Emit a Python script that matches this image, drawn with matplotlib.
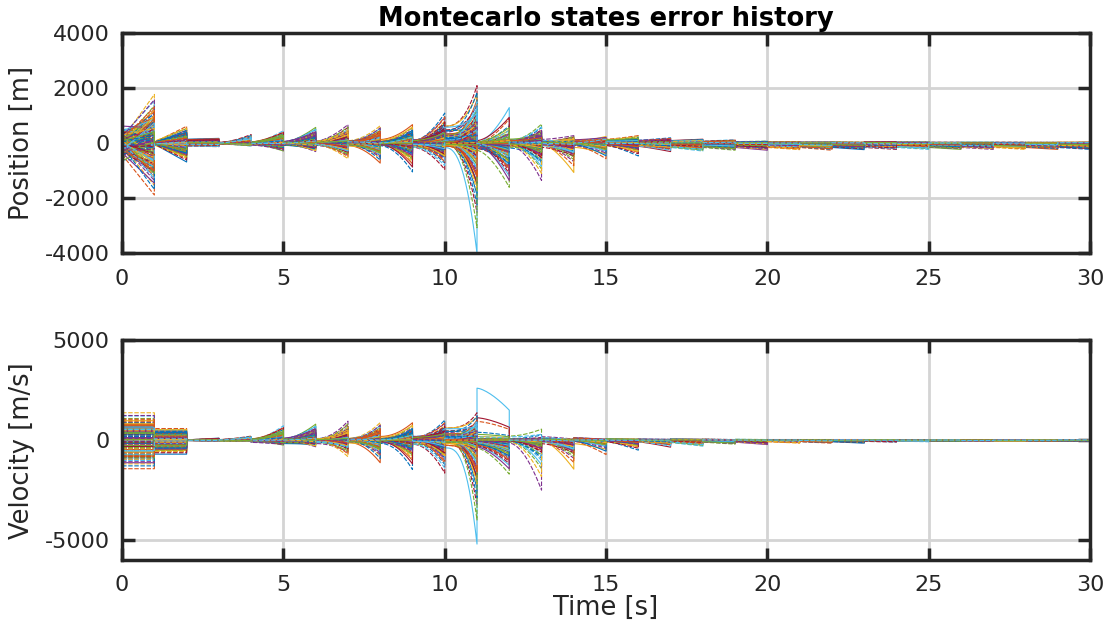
import numpy as np
import matplotlib
matplotlib.use("Agg")
import matplotlib.pyplot as plt

plt.rcParams['axes.unicode_minus'] = False

# ---------------- data ----------------
segment_starts = list(range(30))          # propagation arcs [k, k+1] s

# Monte Carlo member coefficients (relative position inside the error envelope)
member_coef_a = [0.12, -0.35, 0.58, -0.07, 0.21, -0.62, 0.03, 0.44, -0.18, 0.31,
                 -0.49, 0.09, -0.26, 0.72, -0.11, 0.16, -0.83, 0.38, -0.02, 0.25,
                 -0.39, 0.51, -0.14, 0.06, 0.29, -0.57, 0.19, -0.31, 0.65, -0.05,
                 0.11, -0.22, 0.41, -0.68, 0.14, 0.02, -0.45, 0.34, -0.09, 0.55,
                 -0.28, 0.08, 0.13, -0.16, 0.23, -0.74, 0.47, -0.04, 0.18, -0.36,
                 0.27, -0.12, 0.61, -0.52, 0.05, -0.21, 0.36, -1.00, 1.00, -0.41,
                 0.79, -0.08, 0.33, -0.24, 0.01, 0.49, -0.66, 0.17, -0.33, 0.26,
                 -0.03, 0.42, -0.47, 0.10, -0.19, 0.88, -0.58, 0.22, -0.13, 0.07]
member_coef_b = [-0.21, 0.44, -0.06, 0.33, -0.52, 0.15, 0.71, -0.29, 0.04, -0.40,
                 0.26, -0.13, 0.57, -0.67, 0.09, 0.37, -0.02, -0.24, 0.48, -0.35,
                 0.18, -0.79, 0.12, 0.30, -0.10, 0.63, -0.46, 0.01, 0.22, -0.17,
                 0.52, -0.60, 0.07, -0.33, 0.40, 0.90, -0.08, 0.16, -0.43, 0.28,
                 -0.55, 0.05, 0.35, -0.19, -0.71, 0.46, 0.11, -0.27, 0.60, -0.04,
                 0.24, -0.38, 0.14, -0.90, 0.53, -0.15, 0.32, 0.03, -0.49, 0.20,
                 -0.11, 0.67, -0.30, 0.09, -0.62, 0.39, -0.23, 0.13, 0.76, -0.42,
                 0.06, -0.26, 0.45, -0.07, 0.19, -0.56, 0.34, -0.14, 0.27, -0.36]

# Position error envelopes [m] at start / end of each arc
pos_start_hi = [900, 80, 150, 60, 80, 100, 150, 150, 150, 200, 900, 300, 300, 250, 200,
                200, 150, 100, 80, 60, 50, 50, 50, 50, 50, 40, 40, 40, 40, 40]
pos_start_lo = [-900, -80, -100, -40, -80, -100, -100, -150, -150, -200, -400, -400, -300, -250, -200,
                -150, -150, -150, -150, -150, -150, -150, -150, -150, -150, -150, -150, -150, -150, -150]
pos_end_hi = [1780, 620, 180, 320, 460, 580, 680, 640, 680, 1100, 2100, 1300, 700, 280, 250,
              280, 200, 150, 130, 80, 60, 60, 40, 60, 60, 40, 40, 40, 40, 40]
pos_end_lo = [-1880, -680, -120, -100, -280, -300, -560, -720, -1040, -950, -4000, -1600, -1350, -1060, -560,
              -460, -300, -280, -250, -250, -230, -250, -230, -220, -220, -220, -220, -220, -220, -220]
pos_shape = [1, 1, 1, 1.5, 1.5, 1.5, 1.6, 1.8, 1.8, 1.8, 2.5, 1.6, 1.8, 1.5, 1.5,
             1.3, 1.2, 1, 1, 1, 1, 1, 1, 1, 1, 1, 1, 1, 1, 1]
pos_rho = [0.3, 0.5, 1, 0.5, 0.5, 0.5, 0.5, 0.5, 0.5, 0.5, 0.6, 0.5, 0.5, 0.5, 0.6,
           0.7, 0.8, 1, 1, 1, 1, 1, 1, 1, 1, 1, 1, 1, 1, 1]
pos_tail_hi = [1.1, 1.1, 1.0, 1.2, 1.2, 1.2, 1.3, 1.3, 1.3, 1.3, 1.2, 3.0, 1.5, 1.5, 1.5,
               1.3, 1.3, 1.2, 1.2, 1.2, 1.2, 1.2, 1.2, 1.2, 1.2, 1.2, 1.2, 1.2, 1.2, 1.2]
pos_tail_lo = [1.1, 1.1, 1.0, 1.2, 1.2, 1.2, 1.5, 1.6, 1.8, 1.5, 2.5, 1.6, 2.0, 2.5, 2.0,
               1.8, 1.6, 1.3, 1.3, 1.3, 1.3, 1.3, 1.3, 1.3, 1.3, 1.3, 1.3, 1.3, 1.3, 1.3]

# Velocity error envelopes [m/s]
vel_start_hi = [1370, 580, 30, 50, 100, 150, 150, 150, 200, 300, 900, 2600, 950, 300, 200,
                100, 80, 60, 50, 40, 30, 30, 30, 20, 20, 20, 20, 20, 20, 20]
vel_start_lo = [-1430, -700, -30, -50, -150, -250, -250, -250, -300, -300, -1000, -400, -300, -300, -250,
                -200, -150, -120, -100, -100, -80, -80, -80, -60, -50, -40, -40, -40, -40, -40]
vel_end_hi = [1370, 580, 100, 200, 720, 800, 950, 880, 870, 1000, 1370, 1500, 550, 50, 50,
              50, 40, 40, 30, 30, 30, 30, 30, 20, 20, 20, 20, 20, 20, 20]
vel_end_lo = [-1430, -700, -60, -60, -250, -330, -830, -1130, -1470, -1650, -5200, -1700, -2500, -1450, -720,
              -500, -350, -300, -200, -220, -150, -150, -150, -100, -80, -60, -50, -50, -50, -50]
vel_shape = [1, 1, 1, 1.3, 1.6, 1.6, 2, 2, 2, 2, 3, 1.5, 1.8, 1.5, 1.3,
             1.2, 1.2, 1, 1, 1, 1, 1, 1, 1, 1, 1, 1, 1, 1, 1]
vel_rho = [1, 1, 0.5, 0.5, 0.5, 0.5, 0.5, 0.5, 0.5, 0.5, 0.6, 1, 0.8, 0.5, 0.5,
           0.6, 0.7, 1, 1, 1, 1, 1, 1, 1, 1, 1, 1, 1, 1, 1]
vel_tail_hi = [1.0, 1.0, 1.2, 1.2, 1.3, 1.3, 1.5, 1.5, 1.5, 1.4, 1.3, 8.0, 6.0, 1.5, 1.5,
               1.3, 1.3, 1.2, 1.2, 1.2, 1.2, 1.2, 1.2, 1.2, 1.2, 1.2, 1.2, 1.2, 1.2, 1.2]
vel_tail_lo = [1.0, 1.0, 1.2, 1.2, 1.3, 1.3, 1.8, 2.0, 2.0, 1.6, 2.5, 1.6, 3.0, 2.5, 2.5,
               2.0, 1.8, 1.5, 1.5, 1.5, 1.5, 1.5, 1.5, 1.5, 1.5, 1.5, 1.5, 1.5, 1.5, 1.5]

x_ticks = [0, 5, 10, 15, 20, 25, 30]
pos_ticks = [-4000, -2000, 0, 2000, 4000]
vel_ticks = [-5000, 0, 5000]

title = "Montecarlo states error history"
COLORS = ['#0072BD', '#D95319', '#EDB120', '#7E2F8E', '#77AC30', '#4DBEEE', '#A2142F']

members = member_coef_a + member_coef_b


def amp(c, hi, lo, qh, ql):
    if c >= 0:
        return (c ** qh) * hi
    return ((-c) ** ql) * lo


def build(i, s_hi, s_lo, e_hi, e_lo, shape, rho, t_hi, t_lo):
    n = len(members)
    tau = np.linspace(0, 1, 18)
    ts, vs = [], []
    for k, t0 in enumerate(segment_starts):
        j = (i + k) % n
        j2 = (3 * i + 7 * k + 29) % n
        ce = members[j]
        cs = rho[k] * members[j] + (1 - rho[k]) * members[j2]
        s = amp(cs, s_hi[k], s_lo[k], t_hi[k], t_lo[k])
        e = amp(ce, e_hi[k], e_lo[k], t_hi[k], t_lo[k])
        ts.append(t0 + tau)
        vs.append(s + (e - s) * tau ** shape[k])
    return np.concatenate(ts), np.concatenate(vs)


fig = plt.figure(figsize=(11.1, 6.3), dpi=100)
ax1 = fig.add_axes([0.110, 0.598, 0.872, 0.349])
ax2 = fig.add_axes([0.110, 0.111, 0.872, 0.349])

for i in range(len(members)):
    col = COLORS[i % 7]
    style = dict(color=col, lw=0.8)
    if i % 3 != 2:
        style.update(ls='--', dashes=(4, 1.5))
    t, p = build(i, pos_start_hi, pos_start_lo, pos_end_hi, pos_end_lo, pos_shape, pos_rho,
                 pos_tail_hi, pos_tail_lo)
    ax1.plot(t, p, **style)
    t, v = build(i, vel_start_hi, vel_start_lo, vel_end_hi, vel_end_lo, vel_shape, vel_rho,
                 vel_tail_hi, vel_tail_lo)
    ax2.plot(t, v, **style)

for ax, yt, ylim, lab in [(ax1, pos_ticks, (-4000, 4000), 'Position [m]'),
                          (ax2, vel_ticks, (-6000, 5000), 'Velocity [m/s]')]:
    ax.set_xlim(0, 30)
    ax.set_ylim(*ylim)
    ax.set_xticks(x_ticks)
    ax.set_yticks(yt)
    ax.grid(True, color='#d4d4d4', lw=2)
    ax.set_axisbelow(True)
    for sp in ax.spines.values():
        sp.set_linewidth(2.5)
        sp.set_color('#262626')
    ax.tick_params(direction='in', length=9, width=2.5, top=True, right=True,
                   labelsize=16, colors='#262626', pad=9)
    ax.tick_params(axis='x', pad=11)
    ax.set_ylabel(lab, fontsize=18.5, color='#262626', labelpad=7)

ax1.set_title(title, fontsize=18.5, fontweight='bold', pad=5)
ax2.set_xlabel('Time [s]', fontsize=18.5, color='#262626', labelpad=0)

fig.savefig('out.png', dpi=100)
